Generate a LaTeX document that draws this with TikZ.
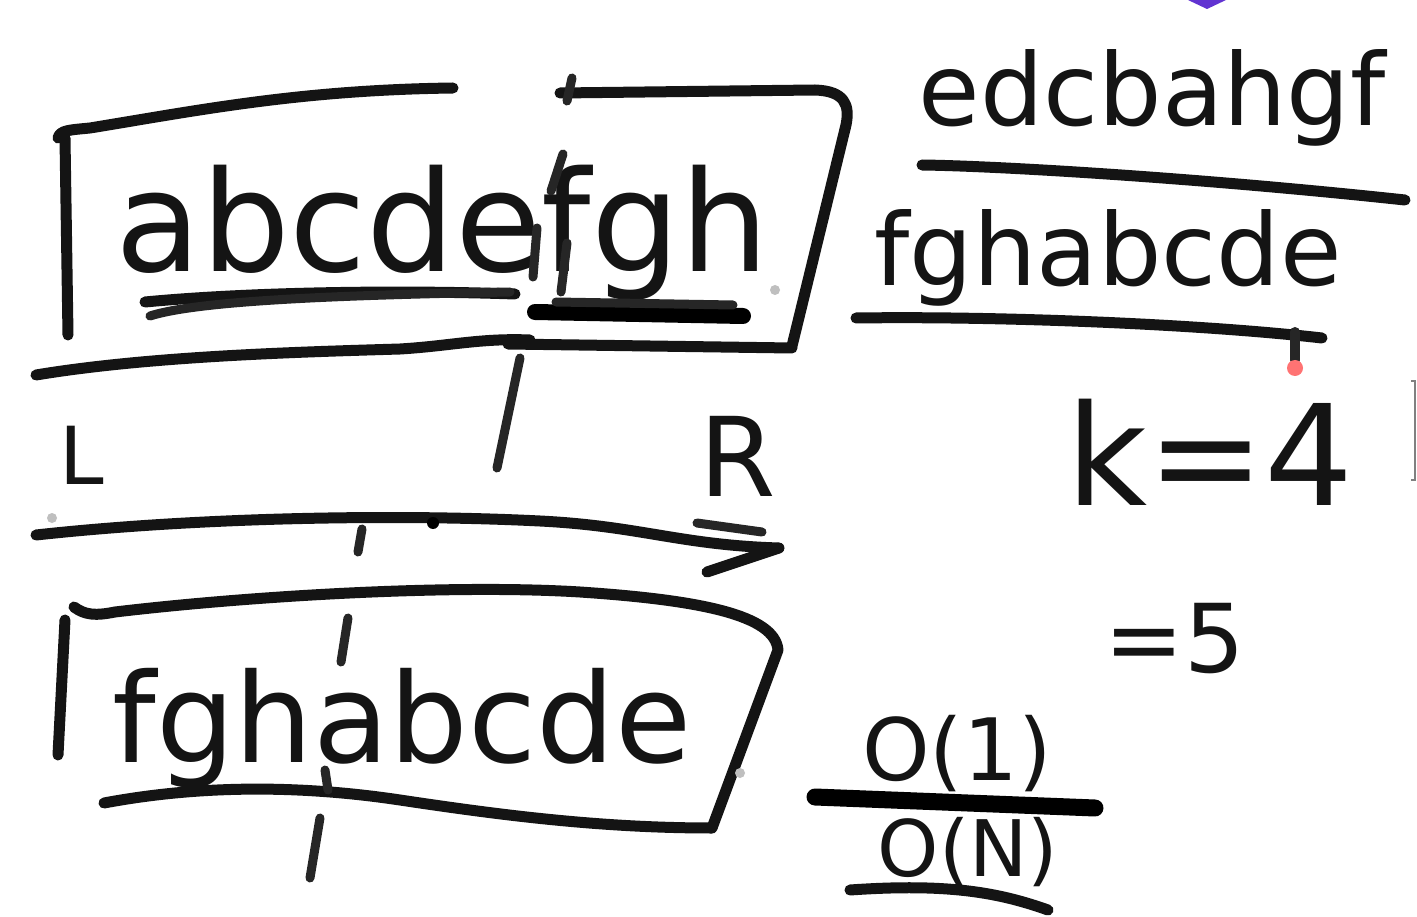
\documentclass[tikz,border=0pt]{standalone}
\usepackage{fontspec}
\newfontfamily\hand{DejaVu Sans}
\newcommand{\fsz}[1]{\hand\fontsize{#1}{#1}\selectfont}
\begin{document}
\begin{tikzpicture}[x=1pt,y=-1pt,
  pen/.style={line width=11pt,line cap=round,line join=round,draw=black!92},
  thin pen/.style={line width=9pt,line cap=round,line join=round,draw=black!85},
  txt/.style={inner sep=0pt,anchor=base,text=black!92},
  speck/.style={fill=black!25,draw=none}]
\useasboundingbox[fill=white] (0,0) rectangle (1417,917);

% ---------- top box ----------
\draw[pen] (58,138) .. controls (60,130) and (70,130) .. (90,128) .. controls (200,110) and (300,90) .. (453,88);
\draw[pen] (65,138) -- (68,335);
\draw[pen] (560,93) -- (815,90) .. controls (845,91) and (850,105) .. (846,125) -- (792,346);
\draw[pen] (508,344) -- (792,348);
\draw[pen] (36,375) .. controls (150,356) and (300,352) .. (400,349) .. controls (450,346) and (480,338) .. (530,340);
\draw[thin pen] (572,78) -- (567,101);
\node[txt,font=\fsz{140}] (top) at (442,272) {abcdefgh};
\draw[thin pen] (563,154) -- (551,191);
\draw[thin pen] (537,228) -- (533,277);
\draw[thin pen] (567,243) -- (561,292);
% underlines
\draw[pen] (145,302) .. controls (250,292) and (400,290) .. (515,294);
\draw[thin pen] (150,316) .. controls (200,300) and (350,295) .. (510,292);
\draw[line width=16pt,line cap=round,draw=black] (535,312) -- (743,316);
\draw[thin pen] (556,302) -- (733,305);
\fill[speck] (775,290) circle (5);

% ---------- L / R axis ----------
\draw[thin pen] (520,358) -- (497,468);
\node[txt,font=\fsz{80}] (L) at (82,484) {L};
\node[txt,font=\fsz{110}] (R) at (738,496) {R};
\draw[pen] (36,535) .. controls (200,517) and (400,514) .. (540,521) .. controls (640,526) and (680,545) .. (779,548);
\coordinate (tip) at (779,548);
\draw[pen] (tip) -- (707,572);
\draw[thin pen] (697,523) -- (762,532);
\draw[thin pen] (362,529) -- (358,552);
\fill[black] (433,523) circle (6);
\fill[speck] (52,518) circle (5);

% ---------- bottom box ----------
\draw[pen] (74,607) .. controls (85,615) and (95,616) .. (115,612) .. controls (250,596) and (450,584) .. (580,592) .. controls (700,600) and (775,615) .. (778,650) -- (712,828);
\draw[pen] (65,620) -- (58,755);
\draw[pen] (104,803) .. controls (200,785) and (300,785) .. (400,800) .. controls (500,815) and (600,828) .. (712,828);
\node[txt,font=\fsz{124}] (bot) at (402,762) {fghabcde};
\draw[thin pen] (348,618) -- (341,662);
\draw[thin pen] (325,770) -- (328,790);
\draw[thin pen] (320,818) -- (310,878);
\fill[speck] (740,773) circle (5);

% ---------- right side ----------
\node[txt,font=\fsz{100}] (rev) at (1152,126) {edcbahgf};
\draw[pen] (922,165) .. controls (1000,166) and (1200,178) .. (1405,200);
\node[txt,font=\fsz{100}] (rot) at (1108,286) {fghabcde};
\draw[pen] (856,318) .. controls (1000,316) and (1200,324) .. (1322,338);
\draw[line width=10pt,line cap=round,draw=black!85] (1295,332) -- (1295,360);
\fill[red!55] (1295,368) circle (8);

\node[txt,font=\fsz{140}] (k) at (1210,505) {k=4};
\node[txt,font=\fsz{95}] (i) at (1175,672) {=5};

\node[txt,font=\fsz{86}] (o1) at (957,780) {O(1)};
\draw[line width=17pt,line cap=round,draw=black] (815,797) -- (1095,808);
\node[txt,font=\fsz{78}] (on) at (968,876) {O(N)};
\draw[pen] (850,890) .. controls (950,883) and (1000,893) .. (1048,910);

% ---------- screen artefacts ----------
\fill[blue!55!violet!80] (1188,0) -- (1226,0) -- (1207,9) -- cycle;
\draw[black!50,line width=1.2pt] (1411,381) -- (1415,381) -- (1415,480) -- (1411,480);
\end{tikzpicture}
\end{document}
